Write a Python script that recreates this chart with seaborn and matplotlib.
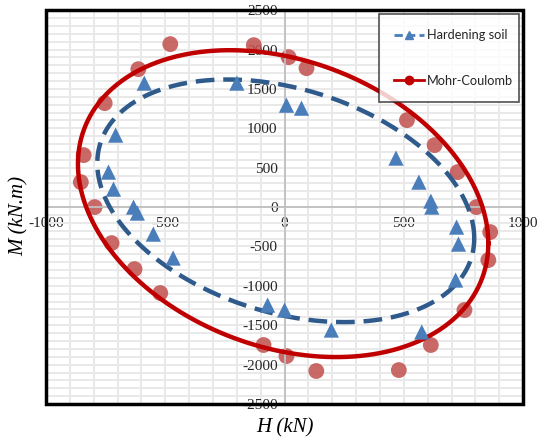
import numpy as np
import pandas as pd
import matplotlib
matplotlib.use("Agg")
import matplotlib.pyplot as plt
import seaborn as sns
from matplotlib.ticker import MultipleLocator
from matplotlib.lines import Line2D
from matplotlib.patches import Rectangle

# ---- data ----
mc_H = [-479, -129, 17, 92, -613, -754, 513, 629, -842, 725, -854, -796, 804,
        862, -725, 854, -629, -521, 754, 613, -88, 8, 133, 479]
mc_M = [2069, 2056, 1904, 1764, 1751, 1320, 1104, 787, 660, 444, 317, 0, 0,
        -317, -457, -673, -787, -1091, -1307, -1751, -1751, -1891, -2081, -2069]

hs_H = [-588, -200, 8, 71, -708, 467, -738, 563, -717, 613, 617, -633, -617,
        -550, 721, 729, -467, 717, -71, 0, 196, 575]
hs_M = [1574, 1574, 1294, 1256, 914, 622, 444, 317, 228, 76, 0, 0, -76,
        -343, -254, -470, -647, -926, -1244, -1307, -1561, -1586]

# fitted envelope ellipses: centre H, centre M, H amplitude, M amplitude, phase (deg)
mc_ellipse = [-6, 44, 860, 1948, 105]
hs_ellipse = [5, 80, 790, 1540, 108]

x_ticks = [-1000, -500, 0, 500, 1000]
y_ticks = [-2500, -2000, -1500, -1000, -500, 0, 500, 1000, 1500, 2000, 2500]
series_names = ["Hardening soil", "Mohr-Coulomb"]


def ellipse_frame(p, name):
    t = np.radians(np.arange(0, 361, 1))
    return pd.DataFrame({"H": p[0] + p[2] * np.cos(t),
                         "M": p[1] + p[3] * np.cos(t - np.radians(p[4])),
                         "s": name})


plt.rcParams["axes.unicode_minus"] = False
fig = plt.figure(figsize=(5.41, 4.43), dpi=100)
ax = fig.add_axes([0.085, 0.088, 0.882, 0.889])

red_pts = "#c0504d"
red_line = "#c00000"
blue_pts = "#4a7ebb"
blue_line = "#2e5a8c"

sns.scatterplot(x=mc_H, y=mc_M, ax=ax, color=red_pts, alpha=0.85, s=130,
                marker="o", edgecolor="none", zorder=2, legend=False)
sns.lineplot(data=ellipse_frame(mc_ellipse, series_names[1]), x="H", y="M",
             sort=False, estimator=None, ax=ax, color=red_line, lw=3.2,
             zorder=3, legend=False)
sns.lineplot(data=ellipse_frame(hs_ellipse, series_names[0]), x="H", y="M",
             sort=False, estimator=None, ax=ax, color=blue_line, lw=3.2,
             zorder=3, legend=False)
ax.lines[-1].set_dashes((4.2, 2.0))
sns.scatterplot(x=hs_H, y=hs_M, ax=ax, color=blue_pts, s=120, marker="^",
                edgecolor="none", zorder=4, legend=False)

ax.set_xlim(-1000, 1000)
ax.set_ylim(-2500, 2500)
ax.xaxis.set_minor_locator(MultipleLocator(100))
ax.yaxis.set_minor_locator(MultipleLocator(100))
ax.set_xticks(x_ticks)
ax.set_yticks(y_ticks)
ax.set_xticklabels([str(v) for v in x_ticks])
ax.set_yticklabels([str(v) for v in y_ticks])
ax.grid(True, which="both", color="#e9e9e9", lw=1.4, zorder=0)
ax.set_axisbelow(True)

for side in ["top", "right"]:
    ax.spines[side].set_visible(False)
ax.spines["left"].set_position(("data", 0))
ax.spines["bottom"].set_position(("data", 0))
for side in ["left", "bottom"]:
    ax.spines[side].set_color("#bfbfbf")
    ax.spines[side].set_linewidth(1.3)
ax.tick_params(which="both", length=0)
ax.tick_params(axis="x", pad=7, labelsize=11, labelcolor="#262626")
ax.tick_params(axis="y", pad=5, labelsize=11, labelcolor="#262626")
for lab in ax.get_xticklabels() + ax.get_yticklabels():
    lab.set_family("Liberation Serif")

ax.add_patch(Rectangle((0, 0), 1, 1, transform=ax.transAxes, fill=False,
                       ec="black", lw=2.5, clip_on=False, zorder=10))

ax.set_xlabel("")
ax.set_ylabel("")
fig.text(0.527, 0.035, "H (kN)", family="Liberation Serif", style="italic",
         fontsize=15, ha="center", va="center")
fig.text(0.035, 0.512, "M (kN.m)", family="Liberation Serif", style="italic",
         fontsize=15, ha="center", va="center", rotation=90)

handles = [
    Line2D([], [], color=blue_pts, ls=(0, (3, 1.5)), lw=2, marker="^", ms=6),
    Line2D([], [], color=red_line, ls="-", lw=2, marker="o", ms=6),
]
leg = ax.legend(handles, series_names, loc="upper left",
                bbox_to_anchor=(0.698, 0.772, 0.294, 0.218), mode="expand",
                borderaxespad=0, frameon=True, fancybox=False,
                prop={"family": "Lato", "size": 9.2}, labelspacing=2.6,
                handlelength=2.3, handletextpad=0.25, borderpad=1.2)
for txt in leg.get_texts():
    txt.set_color("#262626")
leg.get_frame().set_edgecolor("#262626")
leg.get_frame().set_linewidth(1.2)
leg.set_zorder(11)

fig.savefig("out.png", dpi=100)
